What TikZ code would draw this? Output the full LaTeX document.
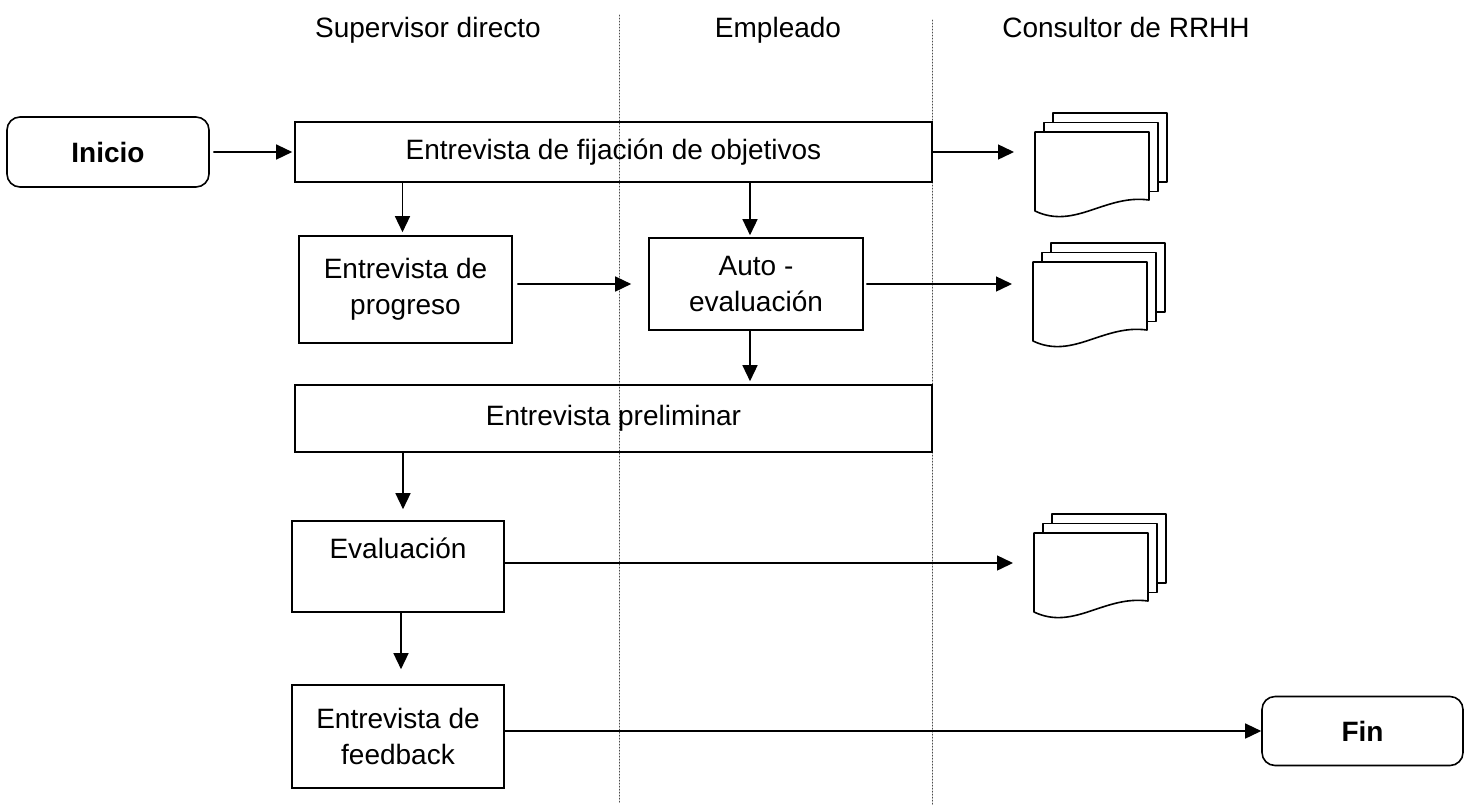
\documentclass[tikz,border=0pt]{standalone}
\usepackage{fontspec}
\setmainfont{Liberation Sans}
\usepackage{tikz}
\usetikzlibrary{arrows.meta}

\tikzset{
    caja/.style={draw, line width=0.8pt, align=center, inner sep=0pt,
        font=\fontsize{14}{18}\selectfont},
    terminal/.style={caja, rounded corners=6.5pt, font=\fontsize{14}{18}\selectfont\bfseries},
    flujo/.style={line width=0.7pt, -{Triangle[length=8pt,width=7.5pt]}},
    hoja/.style={draw, line width=0.8pt, fill=white, line join=round},
    carril/.style={densely dotted, line width=0.5pt, black!70},
    titulo/.style={anchor=base, font=\fontsize{14}{18}\selectfont}
}

\begin{document}
\begin{tikzpicture}[x=0.5pt, y=-0.5pt, line cap=round]
        \useasboundingbox (0,0) rectangle (1471,804);

        % lanes
        \draw[carril] (619,15) -- (619,804);
        \draw[carril] (932,20) -- (932,804);
        \node[titulo] (sup) at (428,37) {Supervisor directo};
        \node[titulo] (emp) at (778,37) {Empleado};
        \node[titulo] (rrhh) at (1126,37) {Consultor de RRHH};

        % boxes
        \node[terminal, minimum width=101pt, minimum height=35pt] (ini) at (108,152) {Inicio};
        \node[caja, minimum width=318.5pt, minimum height=30pt] (obj) at (613.5,152) {Entrevista de fijación de objetivos};
        \node[caja, minimum width=106.5pt, minimum height=53.5pt] (prog) at (405.5,289.5) {Entrevista de\\progreso};
        \node[caja, minimum width=107pt, minimum height=46pt] (auto) at (756,284) {Auto -\\evaluación};
        \node[caja, minimum width=318.5pt, minimum height=33.5pt] (prel) at (613.5,418.5) {Entrevista preliminar};
        \node[caja, minimum width=106pt, minimum height=45.5pt] (eval) at (398,566.5) {Evaluación\\\mbox{}};
        \node[caja, minimum width=106pt, minimum height=51.5pt] (feed) at (398,736.5) {Entrevista de\\feedback};
        \node[terminal, minimum width=100.5pt, minimum height=34.5pt] (fin) at (1362.5,731) {Fin};

        % document stacks
        \foreach \px/\py [count=\i] in {1035/132, 1033/262, 1034/533} {
            \draw[hoja] (\px+18,\py-19) rectangle ++(114,69);
            \draw[hoja] (\px+9,\py-9.5) rectangle ++(114,69);
            \draw[hoja] (\px,\py) -- (\px+114,\py) -- (\px+114,\py+68)
                .. controls (\px+70,\py+62) and (\px+40,\py+98) .. (\px,\py+79) -- cycle;
            \coordinate (doc\i) at (\px,\py+40);
        }

        % arrows
        \draw[flujo, shorten >=1pt, shorten <=2pt] (ini.east |- obj) -- (obj.west);
        \draw[flujo, shorten >=10.5pt] (obj.east) -- (obj.east -| doc1);
        \draw[flujo, shorten >=1.5pt] ([xshift=-1.5pt]obj.south -| prog) -- ([xshift=-1.5pt]prog.north);
        \draw[flujo, shorten >=1pt] ([xshift=-3pt]obj.south -| auto) -- ([xshift=-3pt]auto.north);
        \draw[flujo, shorten <=2.5pt, shorten >=8.5pt] (prog.east |- auto) -- (auto.west);
        \draw[flujo, shorten <=1.5pt, shorten >=10.5pt] (auto.east) -- (auto.east -| doc2);
        \draw[flujo, shorten >=1.5pt] ([xshift=-3pt]auto.south) -- ([xshift=-3pt]auto.south |- prel.north);
        \draw[flujo, shorten >=5.5pt] ([xshift=2.5pt]prel.south -| eval) -- ([xshift=2.5pt]eval.north);
        \draw[flujo, shorten >=10.5pt] (eval.east |- 0,563) -- (doc3 |- 0,563);
        \draw[flujo, shorten >=7.5pt] ([xshift=1.5pt]eval.south) -- ([xshift=1.5pt]feed.north);
        \draw[flujo] (feed.east |- fin) -- (fin.west);
    \end{tikzpicture}
\end{document}
